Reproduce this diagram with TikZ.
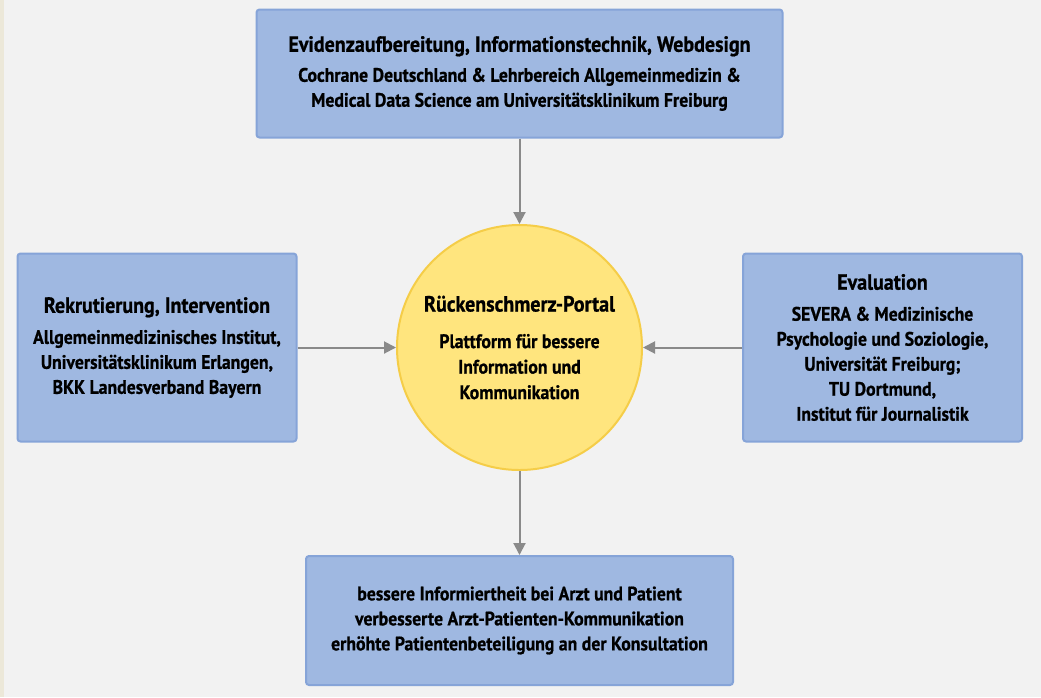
\documentclass[tikz,border=0pt]{standalone}
\usepackage{fontspec}
\setmainfont{PT Sans}[FakeStretch=0.91, BoldFeatures={FakeBold=0.8}]
\usetikzlibrary{arrows.meta}
\definecolor{bg}{HTML}{F2F2F2}
\definecolor{strip}{HTML}{ECE8D9}
\definecolor{boxfill}{HTML}{9FB8E1}
\definecolor{boxedge}{HTML}{86A4D8}
\definecolor{hubfill}{HTML}{FFE57E}
\definecolor{hubedge}{HTML}{F5CD48}
\definecolor{arrowgray}{HTML}{8A8A8A}
\newcommand\boxtitle[1]{{\fontsize{22}{25}\selectfont #1}}
\begin{document}
\begin{tikzpicture}[x=1pt,y=-1pt,
  infobox/.style={draw=boxedge, line width=2pt, fill=boxfill, rounded corners=3pt,
    align=center, font=\bfseries\fontsize{19.5}{25}\selectfont, inner sep=0pt},
  hub/.style={circle, draw=hubedge, line width=2pt, fill=hubfill, minimum size=245pt,
    align=center, font=\bfseries\fontsize{19.5}{25.5}\selectfont, inner sep=0pt},
  flow/.style={draw=arrowgray, line width=2pt, -{Triangle[length=12pt,width=12pt]}}]
  % canvas
  \fill[bg] (0,0) rectangle (1041,697);
  \fill[strip] (0,0) rectangle (4,697);
  \useasboundingbox (0,0) rectangle (1041,697);

  % partners
  \node[infobox, minimum width=526pt, minimum height=128pt] (top) at (519.5,73.5)
    {\boxtitle{Evidenzaufbereitung, Informationstechnik, Webdesign}\\[5pt]
     Cochrane Deutschland \& Lehrbereich Allgemeinmedizin \&\\
     Medical Data Science am Universitätsklinikum Freiburg};

  \node[infobox, minimum width=279pt, minimum height=188pt] (left) at (157,347.5)
    {\boxtitle{Rekrutierung, Intervention}\\[6pt]
     Allgemeinmedizinisches Institut,\\
     Universitätsklinikum Erlangen,\\
     BKK Landesverband Bayern};

  \node[infobox, minimum width=279pt, minimum height=188pt] (right) at (882.5,347.5)
    {\boxtitle{Evaluation}\\[6pt]
     SEVERA \& Medizinische\\
     Psychologie und Soziologie,\\
     Universität Freiburg;\\
     TU Dortmund,\\
     Institut für Journalistik};

  \node[infobox, minimum width=427pt, minimum height=129pt] (bottom) at (519.5,620.5)
    {bessere Informiertheit bei Arzt und Patient\\
     verbesserte Arzt-Patienten-Kommunikation\\
     erhöhte Patientenbeteiligung an der Konsultation};

  % portal
  \node[hub] (hub) at (519.5,347.5)
    {\boxtitle{Rückenschmerz-Portal}\\[11pt]
     Plattform für bessere\\
     Information und\\
     Kommunikation};

  % connectors
  \draw[flow] (top.south) -- (hub.north);
  \draw[flow] (left.east) -- (hub.west);
  \draw[flow] (right.west) -- (hub.east);
  \draw[flow] (hub.south) -- (bottom.north);
\end{tikzpicture}
\end{document}
